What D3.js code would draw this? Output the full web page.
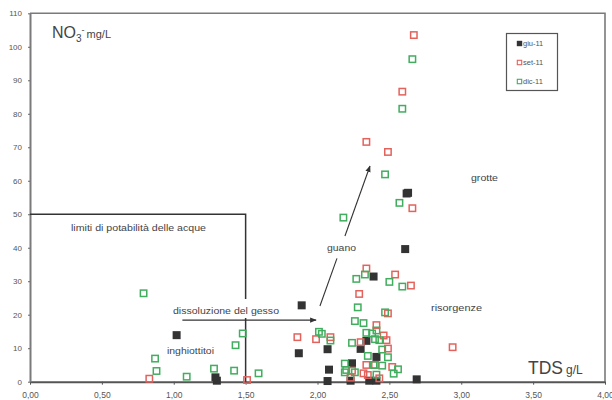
<!DOCTYPE html>
<html>
<head>
<meta charset="utf-8">
<script src="https://cdn.jsdelivr.net/npm/d3@7"></script>
<style>
  html, body { margin: 0; padding: 0; background: #fff; }
  svg { display: block; font-family: "Liberation Sans", Arial, sans-serif; }
</style>
</head>
<body>
<svg id="chart" width="612" height="400"></svg>
<script>
// TDS (g/L) against nitrate (mg/L) for three sampling campaigns
const xTicks = [0, 0.5, 1, 1.5, 2, 2.5, 3, 3.5, 4];
const yTicks = [0, 10, 20, 30, 40, 50, 60, 70, 80, 90, 100, 110];

const seriesNames = ["giu-11", "set-11", "dic-11"];

// giu-11
const giuTDS = [1.02, 1.29, 1.30, 1.87, 1.89, 2.07, 2.08, 2.07, 2.24, 2.23, 2.30, 2.34, 2.39, 2.41, 2.36, 2.41, 2.69, 2.61, 2.62, 2.63];
const giuNO3 = [13.9, 1.3, 0.3, 8.5, 22.8, 9.7, 3.6, 0.2, 5.5, 0.3, 9.8, 12.2, 31.4, 7.4, 0.3, 0.3, 0.7, 39.6, 56.2, 56.4];

// set-11
const setTDS = [0.83, 1.51, 1.86, 1.99, 2.09, 2.29, 2.34, 2.54, 2.65, 2.49, 2.41, 2.46, 2.48, 2.30, 2.49, 2.34, 2.40, 2.52, 2.24, 2.32, 2.35, 2.23, 2.43, 2.94, 2.67, 2.59, 2.34, 2.49, 2.66];
const setNO3 = [0.9, 0.5, 13.3, 12.7, 13.3, 26.2, 33.8, 32.0, 28.7, 20.4, 16.9, 13.8, 12.4, 11.8, 9.9, 5.0, 5.0, 4.4, 3.3, 2.5, 2.0, 1.2, 1.0, 10.3, 103.5, 86.6, 71.6, 68.6, 51.8];

// dic-11
const dicTDS = [0.79, 0.87, 0.88, 1.09, 1.28, 1.42, 1.43, 1.48, 1.59, 2.01, 2.03, 2.09, 2.19, 2.19, 2.27, 2.33, 2.50, 2.59, 2.28, 2.26, 2.32, 2.34, 2.38, 2.41, 2.43, 2.40, 2.24, 2.45, 2.35, 2.49, 2.26, 2.20, 2.39, 2.45, 2.56, 2.41, 2.53, 2.47, 2.18, 2.47, 2.57, 2.59, 2.66];
const dicNO3 = [26.4, 6.9, 3.2, 1.5, 3.9, 3.3, 10.9, 14.4, 2.5, 14.9, 14.3, 12.3, 5.4, 2.8, 30.7, 32.0, 29.8, 28.4, 22.2, 18.1, 17.5, 14.6, 14.4, 15.3, 12.4, 12.7, 11.6, 9.6, 7.7, 7.3, 2.8, 3.5, 5.0, 4.8, 3.7, 2.1, 2.4, 20.7, 49.0, 61.9, 53.4, 81.5, 96.3];

// potability limit for nitrate and the TDS bound of the box
const limitNO3 = 50;
const limitTDS = 1.5;

// trend arrows: gypsum dissolution and guano input
const gessoArrow = { x: [1.06, 1.99], y: [18.4, 18.4] };
const guanoArrow = { x: [2.017, 2.365], y: [22.6, 64.4] };

const svg = d3.select("#chart");
const x = d3.scaleLinear().domain([0, 4]).range([30, 605]);
const y = d3.scaleLinear().domain([0, 110]).range([381.7, 13.3]);

const fmt = d => d3.format(".2f")(d).replace(".", ",");

// plot frame (top and right)
svg.append("path")
  .attr("d", `M${x(0)},${y(110)}H${x(4)}V${y(0)}`)
  .attr("fill", "none").attr("stroke", "#7a7a7a").attr("stroke-width", 1.6);

// axes
const gx = svg.append("g").attr("transform", `translate(0,${y(0)})`)
  .call(d3.axisBottom(x).tickValues(xTicks).tickFormat(fmt).tickSize(3).tickSizeOuter(0).tickPadding(7));
gx.select(".domain").attr("stroke", "#555").attr("stroke-width", 2);
gx.selectAll(".tick line").attr("stroke", "#555");
gx.selectAll(".tick text").attr("fill", "#555").attr("font-size", 8.5).attr("font-family", "Liberation Sans, Arial, sans-serif");

const gy = svg.append("g").attr("transform", `translate(${x(0)},0)`)
  .call(d3.axisLeft(y).tickValues(yTicks).tickFormat(d3.format("d")).tickSize(2).tickSizeOuter(0).tickPadding(6));
gy.select(".domain").attr("stroke", "#7a7a7a").attr("stroke-width", 2);
gy.selectAll(".tick line").attr("stroke", "#666");
gy.selectAll(".tick text").attr("fill", "#555").attr("font-size", 8).attr("font-family", "Liberation Sans, Arial, sans-serif");

// potability box
svg.append("path")
  .attr("d", `M${x(0)},${y(limitNO3)}H${x(limitTDS)}V${y(0)}`)
  .attr("fill", "none").attr("stroke", "#333").attr("stroke-width", 1.5);

// arrow marker
svg.append("defs").append("marker")
  .attr("id", "head").attr("viewBox", "0 0 10 10").attr("refX", 9).attr("refY", 5)
  .attr("markerWidth", 6).attr("markerHeight", 6).attr("orient", "auto")
  .append("path").attr("d", "M0,1L10,5L0,9Z").attr("fill", "#333");

const line = d3.line().x(d => x(d[0])).y(d => y(d[1]));

// white backing behind the gypsum label, which interrupts the box edge
svg.append("rect").attr("x", 171).attr("y", 299).attr("width", 112).attr("height", 19).attr("fill", "#fff");

svg.append("path")
  .datum(d3.zip(gessoArrow.x, gessoArrow.y))
  .attr("d", line).attr("fill", "none").attr("stroke", "#333").attr("stroke-width", 1.1)
  .attr("marker-end", "url(#head)");

// guano arrow, broken around its label
const gStart = d3.zip(guanoArrow.x, guanoArrow.y)[0];
const gEnd = d3.zip(guanoArrow.x, guanoArrow.y)[1];
const lerp = t => [gStart[0] + (gEnd[0] - gStart[0]) * t, gStart[1] + (gEnd[1] - gStart[1]) * t];
svg.append("path").datum([lerp(0), lerp(0.34)])
  .attr("d", line).attr("fill", "none").attr("stroke", "#333").attr("stroke-width", 1.1);
svg.append("path").datum([lerp(0.5), lerp(1)])
  .attr("d", line).attr("fill", "none").attr("stroke", "#333").attr("stroke-width", 1.1)
  .attr("marker-end", "url(#head)");

// data points
const red = "#e4625c", green = "#41ad5e", dark = "#333";

function hollow(tds, no3, color) {
  svg.append("g").selectAll("rect").data(d3.zip(tds, no3)).join("rect")
    .attr("x", d => x(d[0]) - 3.2).attr("y", d => y(d[1]) - 3.2)
    .attr("width", 6.4).attr("height", 6.4)
    .attr("fill", "none").attr("stroke", color).attr("stroke-width", 1.5);
}

svg.append("g").selectAll("rect").data(d3.zip(giuTDS, giuNO3)).join("rect")
  .attr("x", d => x(d[0]) - 4).attr("y", d => y(d[1]) - 4)
  .attr("width", 8).attr("height", 8).attr("fill", dark);
hollow(setTDS, setNO3, red);
hollow(dicTDS, dicNO3, green);

// annotation labels
function label(text, lx, ly, size, len) {
  const t = svg.append("text").attr("x", lx).attr("y", ly)
    .attr("font-size", size).attr("fill", "#444").text(text);
  if (len) t.attr("textLength", len).attr("lengthAdjust", "spacingAndGlyphs");
  return t;
}
label("limiti di potabilità delle acque", 71, 231, 9.5, 135);
label("grotte", 471, 181, 9.5, 27);
label("guano", 327, 251, 9.5, 29);
label("risorgenze", 431, 311, 9.5, 51);
label("dissoluzione del gesso", 173, 314, 9.5, 106);
label("inghiottitoi", 167, 354, 9.5, 47);

// axis titles
const yt = svg.append("text").attr("x", 52).attr("y", 38).attr("fill", "#444");
yt.append("tspan").attr("font-size", 16).text("NO");
yt.append("tspan").attr("font-size", 10).attr("dy", 4).text("3");
yt.append("tspan").attr("font-size", 9).attr("dy", -9).text("-");
yt.append("tspan").attr("font-size", 11).attr("dy", 5).attr("dx", 2).text("mg/L");

const xt = svg.append("text").attr("x", 528).attr("y", 374).attr("fill", "#444");
xt.append("tspan").attr("font-size", 19).attr("textLength", 35).attr("lengthAdjust", "spacingAndGlyphs").text("TDS");
xt.append("tspan").attr("font-size", 12).attr("dx", 3).text("g/L");

// legend
const lg = svg.append("g");
lg.append("rect").attr("x", 506.5).attr("y", 33.5).attr("width", 51).attr("height", 57)
  .attr("fill", "#fff").attr("stroke", "#555").attr("stroke-width", 1.2);
const legendColors = [dark, red, green];
const legendY = [43.5, 62.5, 81.5];
seriesNames.forEach((name, i) => {
  if (i === 0) {
    lg.append("rect").attr("x", 516.8).attr("y", legendY[i] - 2.7).attr("width", 5.4).attr("height", 5.4).attr("fill", dark);
  } else {
    lg.append("rect").attr("x", 517.3).attr("y", legendY[i] - 2.2).attr("width", 4.4).attr("height", 4.4)
      .attr("fill", "none").attr("stroke", legendColors[i]).attr("stroke-width", 1.1);
  }
  lg.append("text").attr("x", 523).attr("y", legendY[i] + 2.7).attr("font-size", 7.5)
    .attr("fill", "#555").text(name);
});
</script>
</body>
</html>
